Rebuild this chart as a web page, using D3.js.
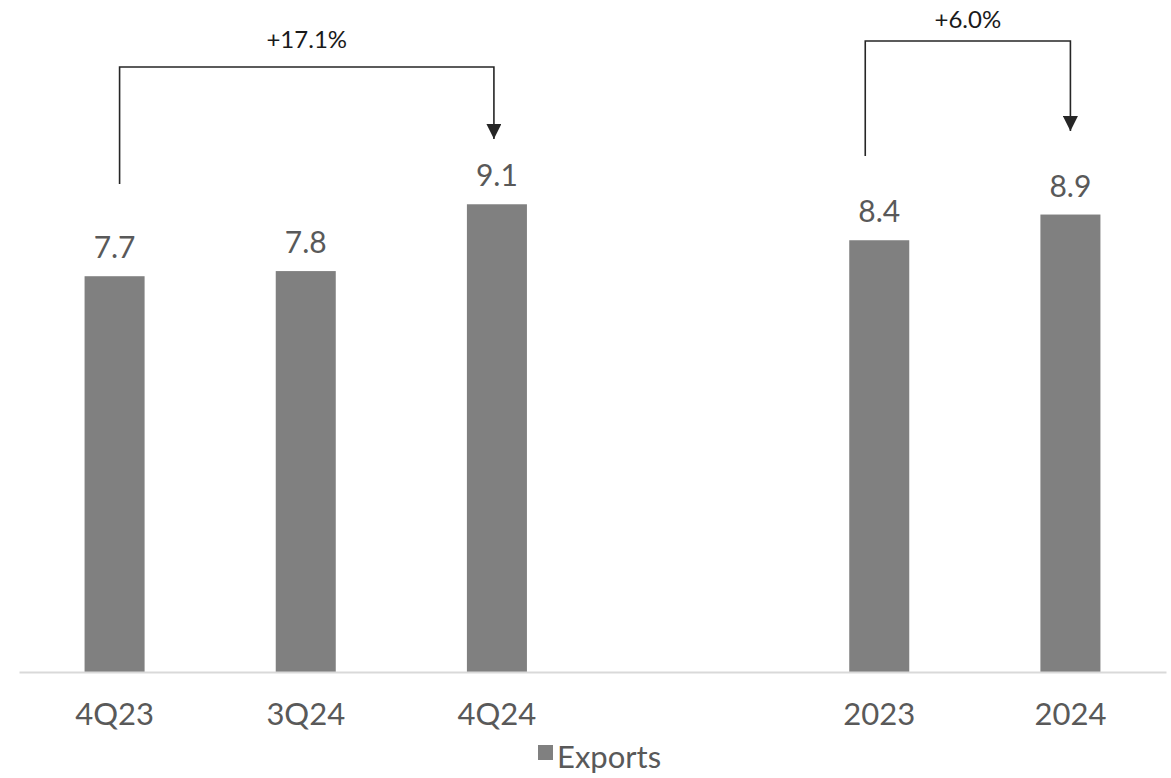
<!DOCTYPE html>
<html>
<head>
<meta charset="utf-8">
<script src="https://cdn.jsdelivr.net/npm/d3@7"></script>
<style>
  body { margin: 0; background: #fff; }
  svg { display: block; font-family: Lato, "Open Sans", sans-serif; }
</style>
</head>
<body>
<svg id="chart"></svg>
<script>
  var width = 1171, height = 778;

  // data
  var categories = ["4Q23", "3Q24", "4Q24", "", "2023", "2024"];
  var values     = [7.7, 7.8, 9.1, null, 8.4, 8.9];
  var seriesName = "Exports";
  var changes = [
    {from: "4Q23", to: "4Q24", label: "+17.1%"},
    {from: "2023", to: "2024", label: "+6.0%"}
  ];

  var svg = d3.select('#chart')
    .attr('width', width)
    .attr('height', height);

  var baseline = 672;

  var x = d3.scaleBand()
    .domain(categories)
    .range([19, 1166])
    .paddingInner(0.686)
    .paddingOuter(0.343);

  var y = d3.scaleLinear()
    .domain([0, 10])
    .range([baseline, baseline - 514]);

  var data = categories.map(function (c, i) { return {cat: c, value: values[i]}; })
    .filter(function (d) { return d.value != null; });

  // bars
  svg.selectAll('rect.bar')
    .data(data)
    .enter()
    .append('rect')
    .attr('class', 'bar')
    .attr('x', function (d) { return x(d.cat); })
    .attr('width', x.bandwidth())
    .attr('y', function (d) { return y(d.value); })
    .attr('height', function (d) { return baseline - y(d.value); })
    .attr('fill', '#808080');

  // value labels
  svg.selectAll('text.val')
    .data(data)
    .enter()
    .append('text')
    .attr('class', 'val')
    .attr('x', function (d) { return x(d.cat) + x.bandwidth() / 2; })
    .attr('y', function (d) { return y(d.value) - 18; })
    .attr('text-anchor', 'middle')
    .attr('fill', '#595959')
    .style('font-size', '30px')
    .text(function (d) { return d.value.toFixed(1); });

  // x axis
  var axis = svg.append('g')
    .attr('transform', 'translate(0,' + baseline + ')')
    .call(d3.axisBottom(x).tickSize(0).tickPadding(31));
  axis.select('.domain').attr('stroke', '#d9d9d9').attr('stroke-width', 2);
  axis.selectAll('text')
    .attr('fill', '#595959')
    .style('font-size', '31px')
    .style('font-family', 'Lato, sans-serif');

  // legend
  var legend = svg.append('g').attr('transform', 'translate(538,745)');
  legend.append('rect').attr('width', 15).attr('height', 15).attr('fill', '#808080');
  legend.append('text')
    .attr('x', 19).attr('y', 23)
    .attr('fill', '#595959')
    .style('font-size', '31px')
    .text(seriesName);

  // change brackets
  var bracketLayout = [
    {dxFrom: 5, dxTo: -3, top: 67, fromEnd: 184, toEnd: 139, labelY: 48},
    {dxFrom: -14, dxTo: 0, top: 41, fromEnd: 156, toEnd: 131, labelY: 28}
  ];

  var marker = svg.append('defs').append('marker')
    .attr('id', 'arrow')
    .attr('viewBox', '0 0 10 10')
    .attr('refX', 10).attr('refY', 5)
    .attr('markerWidth', 15).attr('markerHeight', 15)
    .attr('markerUnits', 'userSpaceOnUse')
    .attr('orient', 'auto');
  marker.append('path').attr('d', 'M0,0 L10,5 L0,10 Z').attr('fill', '#262626');

  changes.forEach(function (c, i) {
    var L = bracketLayout[i];
    var x1 = x(c.from) + x.bandwidth() / 2 + L.dxFrom;
    var x2 = x(c.to) + x.bandwidth() / 2 + L.dxTo;
    svg.append('path')
      .attr('d', 'M' + x1 + ',' + L.fromEnd + ' V' + L.top + ' H' + x2 + ' V' + L.toEnd)
      .attr('fill', 'none')
      .attr('stroke', '#262626')
      .attr('stroke-width', 1.6)
      .attr('marker-end', 'url(#arrow)');
    svg.append('text')
      .attr('x', (x1 + x2) / 2)
      .attr('y', L.labelY)
      .attr('text-anchor', 'middle')
      .attr('fill', '#1a1a1a')
      .style('font-size', '24px')
      .text(c.label);
  });
</script>
</body>
</html>
